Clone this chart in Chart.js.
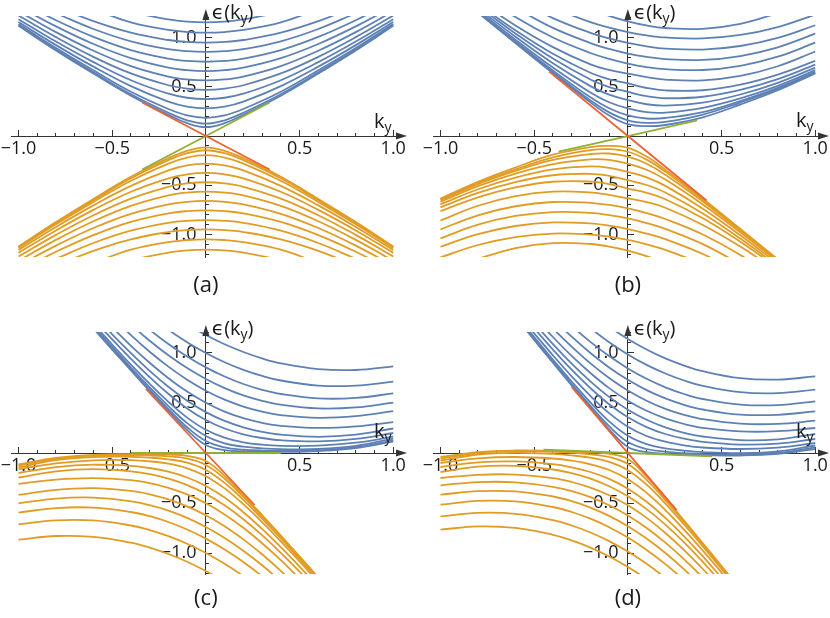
<!DOCTYPE html>
<html>
<head>
<meta charset="utf-8">
<script src="https://cdn.jsdelivr.net/npm/chart.js@4.4.1/dist/chart.umd.min.js"></script>
<style>
  html, body { margin: 0; padding: 0; background: #fff; width: 830px; height: 618px; overflow: hidden; }
  canvas { position: absolute; }
</style>
</head>
<body>
<canvas id="pa" width="446" height="311" style="left:-19px;top:-4px;width:446px;height:311px"></canvas>
<canvas id="pb" width="446" height="311" style="left:403px;top:-4px;width:446px;height:311px"></canvas>
<canvas id="pc" width="446" height="312" style="left:-19px;top:312px;width:446px;height:312px"></canvas>
<canvas id="pd" width="446" height="312" style="left:403px;top:312px;width:446px;height:312px"></canvas>
<script>
/* ===== Data ===== */

// (a) untilted cone: k grid shared by both band families
const gridA = [-1, -0.8, -0.6, -0.4, -0.2, -0.1, 0, 0.1, 0.2, 0.4, 0.6, 0.8, 1];
const upperA = [
  [1.120, 0.870, 0.635, 0.410, 0.215, 0.130, 0.090, 0.130, 0.215, 0.410, 0.635, 0.870, 1.120],
  [1.126, 0.880, 0.648, 0.425, 0.237, 0.160, 0.125, 0.160, 0.237, 0.425, 0.648, 0.880, 1.126],
  [1.138, 0.895, 0.668, 0.450, 0.275, 0.210, 0.185, 0.210, 0.275, 0.450, 0.668, 0.895, 1.138],
  [1.158, 0.924, 0.705, 0.507, 0.349, 0.298, 0.280, 0.298, 0.349, 0.507, 0.705, 0.924, 1.158],
  [1.188, 0.960, 0.751, 0.567, 0.430, 0.389, 0.375, 0.389, 0.430, 0.567, 0.751, 0.960, 1.188],
  [1.225, 1.005, 0.805, 0.636, 0.516, 0.482, 0.470, 0.482, 0.516, 0.636, 0.805, 1.005, 1.225],
  [1.269, 1.056, 0.867, 0.711, 0.604, 0.575, 0.565, 0.575, 0.604, 0.711, 0.867, 1.056, 1.269],
  [1.318, 1.114, 0.935, 0.791, 0.694, 0.669, 0.660, 0.669, 0.694, 0.791, 0.935, 1.114, 1.318],
  [1.373, 1.177, 1.008, 0.874, 0.786, 0.763, 0.755, 0.763, 0.786, 0.874, 1.008, 1.177, 1.373],
  [null, 1.248, 1.088, 0.963, 0.883, 0.862, 0.855, 0.862, 0.883, 0.963, 1.088, 1.248, null],
  [null, 1.319, 1.167, 1.050, 0.976, 0.956, 0.950, 0.956, 0.976, 1.050, 1.167, 1.319, null],
  [null, null, 1.290, 1.155, 1.078, 1.057, 1.050, 1.057, 1.078, 1.155, 1.290, null, null],
  [null, null, null, 1.260, 1.185, 1.163, 1.155, 1.163, 1.185, 1.260, null, null, null]
];
const lowerA = [
  [-1.124, -0.875, -0.640, -0.415, -0.225, -0.150, -0.115, -0.150, -0.225, -0.415, -0.640, -0.875, -1.124],
  [-1.130, -0.884, -0.652, -0.430, -0.245, -0.175, -0.145, -0.175, -0.245, -0.430, -0.652, -0.884, -1.130],
  [-1.140, -0.898, -0.670, -0.455, -0.280, -0.220, -0.195, -0.220, -0.280, -0.455, -0.670, -0.898, -1.140],
  [-1.158, -0.924, -0.705, -0.507, -0.349, -0.298, -0.280, -0.298, -0.349, -0.507, -0.705, -0.924, -1.158],
  [-1.188, -0.960, -0.751, -0.567, -0.430, -0.389, -0.375, -0.389, -0.430, -0.567, -0.751, -0.960, -1.188],
  [-1.225, -1.005, -0.805, -0.636, -0.516, -0.482, -0.470, -0.482, -0.516, -0.636, -0.805, -1.005, -1.225],
  [-1.269, -1.056, -0.867, -0.711, -0.604, -0.575, -0.565, -0.575, -0.604, -0.711, -0.867, -1.056, -1.269],
  [-1.318, -1.114, -0.935, -0.791, -0.694, -0.669, -0.660, -0.669, -0.694, -0.791, -0.935, -1.114, -1.318],
  [-1.373, -1.177, -1.008, -0.874, -0.786, -0.763, -0.755, -0.763, -0.786, -0.874, -1.008, -1.177, -1.373],
  [null, -1.248, -1.088, -0.963, -0.883, -0.862, -0.855, -0.862, -0.883, -0.963, -1.088, -1.248, null],
  [null, -1.319, -1.167, -1.050, -0.976, -0.956, -0.950, -0.956, -0.976, -1.050, -1.167, -1.319, null],
  [null, null, -1.290, -1.155, -1.078, -1.057, -1.050, -1.057, -1.078, -1.155, -1.290, null, null],
  [null, null, null, -1.260, -1.185, -1.163, -1.155, -1.163, -1.185, -1.260, null, null, null]
];
const redA = [[-0.34, 0.34], [0.34, -0.34]];
const greenA = [[-0.34, -0.34], [0.34, 0.34]];

// (b) tilted cone
const gridB = [-1, -0.8, -0.6, -0.4, -0.2, -0.1, 0, 0.1, 0.2, 0.4, 0.6, 0.8, 1];
const upperB = [
  [null, null, null, null, 1.293, 1.222, 1.166, 1.124, 1.098, 1.089, 1.139, 1.248, null],
  [null, null, null, 1.302, 1.157, 1.101, 1.057, 1.023, 1.002, 0.992, 1.027, 1.108, 1.234],
  [null, null, 1.395, 1.199, 1.049, 0.992, 0.946, 0.912, 0.889, 0.879, 0.915, 0.997, 1.126],
  [null, null, 1.303, 1.099, 0.945, 0.885, 0.838, 0.804, 0.781, 0.773, 0.813, 0.902, 1.040],
  [null, 1.466, 1.209, 1.001, 0.844, 0.784, 0.736, 0.701, 0.679, 0.671, 0.714, 0.806, 0.949],
  [null, 1.377, 1.124, 0.904, 0.729, 0.672, 0.635, 0.598, 0.574, 0.566, 0.611, 0.709, 0.859],
  [null, 1.340, 1.074, 0.836, 0.643, 0.577, 0.534, 0.488, 0.463, 0.465, 0.522, 0.624, 0.763],
  [null, 1.321, 1.042, 0.787, 0.574, 0.498, 0.449, 0.405, 0.384, 0.399, 0.469, 0.579, 0.726],
  [null, 1.297, 1.009, 0.739, 0.507, 0.420, 0.365, 0.323, 0.309, 0.339, 0.422, 0.541, 0.695],
  [null, 1.278, 0.980, 0.696, 0.442, 0.343, 0.280, 0.242, 0.237, 0.286, 0.382, 0.510, 0.669],
  [null, 1.265, 0.961, 0.666, 0.393, 0.282, 0.210, 0.178, 0.183, 0.243, 0.355, 0.489, 0.652],
  [null, 1.258, 0.951, 0.649, 0.362, 0.240, 0.160, 0.134, 0.143, 0.218, 0.340, 0.478, 0.643],
  [null, 1.254, 0.945, 0.638, 0.342, 0.209, 0.120, 0.100, 0.112, 0.190, 0.320, 0.465, 0.637]
];
const lowerB = [
  [null, -1.248, -1.139, -1.089, -1.098, -1.124, -1.166, -1.222, -1.293, null, null, null, null],
  [-1.234, -1.108, -1.027, -0.992, -1.002, -1.023, -1.057, -1.101, -1.157, -1.302, null, null, null],
  [-1.126, -0.997, -0.915, -0.879, -0.889, -0.912, -0.946, -0.992, -1.049, -1.199, -1.395, null, null],
  [-1.040, -0.902, -0.813, -0.773, -0.781, -0.804, -0.838, -0.885, -0.945, -1.099, -1.303, null, null],
  [-0.949, -0.806, -0.714, -0.671, -0.679, -0.701, -0.736, -0.784, -0.844, -1.001, -1.209, -1.466, null],
  [-0.859, -0.709, -0.611, -0.566, -0.574, -0.598, -0.635, -0.672, -0.729, -0.904, -1.124, -1.377, null],
  [-0.763, -0.624, -0.522, -0.465, -0.463, -0.488, -0.534, -0.577, -0.643, -0.836, -1.074, -1.340, null],
  [-0.726, -0.579, -0.469, -0.399, -0.384, -0.405, -0.449, -0.498, -0.574, -0.787, -1.042, -1.321, null],
  [-0.695, -0.541, -0.422, -0.339, -0.309, -0.323, -0.365, -0.420, -0.507, -0.739, -1.009, -1.297, null],
  [-0.669, -0.510, -0.382, -0.286, -0.237, -0.242, -0.280, -0.343, -0.442, -0.696, -0.980, -1.278, null],
  [-0.652, -0.489, -0.355, -0.243, -0.183, -0.178, -0.210, -0.282, -0.393, -0.666, -0.961, -1.265, null],
  [-0.643, -0.478, -0.340, -0.218, -0.143, -0.134, -0.160, -0.240, -0.362, -0.649, -0.951, -1.258, null],
  [-0.637, -0.465, -0.320, -0.190, -0.112, -0.100, -0.120, -0.209, -0.342, -0.638, -0.945, -1.254, null]
];
const redB = [[-0.42, 0.655], [0.42, -0.655]];
const greenB = [[-0.37, -0.159], [0.37, 0.159]];

// (c) and (d) share their grids: upper bands on gridU, lower bands on gridL
const gridU = [-0.6, -0.5, -0.4, -0.3, -0.2, -0.1, 0, 0.1, 0.2, 0.3, 0.4, 0.6, 0.8, 1];
const gridL = [-1, -0.8, -0.6, -0.4, -0.3, -0.2, -0.1, 0, 0.1, 0.2, 0.3, 0.4, 0.5, 0.6];

const upperC = [
  [null, null, null, null, 1.410, 1.287, 1.180, 1.087, 1.010, 0.946, 0.897, 0.839, 0.830, 0.867],
  [null, null, null, 1.371, 1.232, 1.108, 1.000, 0.908, 0.832, 0.771, 0.725, 0.674, 0.673, 0.714],
  [null, null, 1.390, 1.232, 1.090, 0.965, 0.856, 0.765, 0.690, 0.632, 0.590, 0.546, 0.551, 0.596],
  [null, null, 1.283, 1.122, 0.977, 0.849, 0.740, 0.649, 0.577, 0.522, 0.483, 0.446, 0.456, 0.504],
  [null, 1.359, 1.179, 1.013, 0.864, 0.733, 0.623, 0.533, 0.464, 0.413, 0.379, 0.351, 0.368, 0.418],
  [null, 1.256, 1.072, 0.902, 0.748, 0.614, 0.502, 0.414, 0.348, 0.302, 0.272, 0.251, 0.266, 0.309],
  [1.386, 1.187, 0.999, 0.822, 0.662, 0.523, 0.409, 0.321, 0.257, 0.212, 0.183, 0.162, 0.183, 0.245],
  [1.338, 1.136, 0.942, 0.759, 0.592, 0.446, 0.330, 0.245, 0.187, 0.150, 0.128, 0.117, 0.141, 0.200],
  [1.292, 1.085, 0.884, 0.691, 0.512, 0.354, 0.232, 0.153, 0.107, 0.083, 0.071, 0.073, 0.103, 0.163],
  [1.270, 1.061, 0.855, 0.657, 0.468, 0.299, 0.170, 0.097, 0.063, 0.046, 0.038, 0.040, 0.071, 0.144],
  [1.255, 1.044, 0.837, 0.634, 0.438, 0.257, 0.120, 0.056, 0.033, 0.024, 0.021, 0.027, 0.058, 0.127],
  [1.245, 1.034, 0.826, 0.620, 0.420, 0.229, 0.080, 0.028, 0.016, 0.011, 0.011, 0.020, 0.049, 0.113]
];
const lowerC = [
  [-0.867, -0.830, -0.839, -0.897, -0.946, -1.010, -1.087, -1.180, -1.287, -1.410, null, null, null, null],
  [-0.714, -0.673, -0.674, -0.725, -0.771, -0.832, -0.908, -1.000, -1.108, -1.232, -1.371, null, null, null],
  [-0.596, -0.551, -0.546, -0.590, -0.632, -0.690, -0.765, -0.856, -0.965, -1.090, -1.232, -1.390, null, null],
  [-0.504, -0.456, -0.446, -0.483, -0.522, -0.577, -0.649, -0.740, -0.849, -0.977, -1.122, -1.283, null, null],
  [-0.418, -0.368, -0.351, -0.379, -0.413, -0.464, -0.533, -0.623, -0.733, -0.864, -1.013, -1.179, -1.359, null],
  [-0.309, -0.266, -0.251, -0.272, -0.302, -0.348, -0.414, -0.502, -0.614, -0.748, -0.902, -1.072, -1.256, null],
  [-0.245, -0.183, -0.162, -0.183, -0.212, -0.257, -0.321, -0.409, -0.523, -0.662, -0.822, -0.999, -1.187, -1.386],
  [-0.200, -0.141, -0.117, -0.128, -0.150, -0.187, -0.245, -0.330, -0.446, -0.592, -0.759, -0.942, -1.136, -1.338],
  [-0.163, -0.103, -0.073, -0.071, -0.083, -0.107, -0.153, -0.232, -0.354, -0.512, -0.691, -0.884, -1.085, -1.292],
  [-0.144, -0.071, -0.040, -0.038, -0.046, -0.063, -0.097, -0.170, -0.299, -0.468, -0.657, -0.855, -1.061, -1.270],
  [-0.127, -0.058, -0.027, -0.021, -0.024, -0.033, -0.056, -0.120, -0.257, -0.438, -0.634, -0.837, -1.044, -1.255],
  [-0.113, -0.049, -0.020, -0.011, -0.011, -0.016, -0.028, -0.080, -0.229, -0.420, -0.620, -0.826, -1.034, -1.245]
];
const redC = [[-0.32, 0.64], [0.26, -0.52]];
const greenC = [[-0.40, 0], [0.40, 0]];

const upperD = [
  [null, null, null, null, 1.400, 1.262, 1.140, 1.035, 0.946, 0.874, 0.818, 0.749, 0.734, 0.767],
  [null, null, null, 1.406, 1.249, 1.108, 0.986, 0.881, 0.795, 0.725, 0.671, 0.608, 0.598, 0.633],
  [null, null, 1.448, 1.271, 1.111, 0.969, 0.846, 0.742, 0.657, 0.590, 0.540, 0.484, 0.479, 0.517],
  [null, null, 1.343, 1.163, 1.000, 0.856, 0.732, 0.629, 0.546, 0.482, 0.435, 0.384, 0.382, 0.417],
  [null, 1.444, 1.246, 1.063, 0.896, 0.750, 0.625, 0.523, 0.442, 0.382, 0.338, 0.293, 0.291, 0.323],
  [null, 1.363, 1.160, 0.971, 0.800, 0.649, 0.523, 0.422, 0.346, 0.290, 0.252, 0.216, 0.218, 0.250],
  [null, 1.298, 1.089, 0.894, 0.717, 0.561, 0.433, 0.333, 0.257, 0.202, 0.165, 0.129, 0.137, 0.190],
  [null, 1.247, 1.034, 0.833, 0.649, 0.487, 0.357, 0.259, 0.190, 0.143, 0.111, 0.084, 0.094, 0.140],
  [1.422, 1.196, 0.977, 0.767, 0.571, 0.399, 0.263, 0.170, 0.113, 0.077, 0.055, 0.040, 0.054, 0.100],
  [1.390, 1.160, 0.934, 0.715, 0.506, 0.317, 0.172, 0.089, 0.047, 0.024, 0.009, -0.002, 0.015, 0.075],
  [1.373, 1.141, 0.913, 0.689, 0.472, 0.268, 0.110, 0.040, 0.013, -0.002, -0.011, -0.017, 0.000, 0.056],
  [1.362, 1.131, 0.902, 0.676, 0.453, 0.237, 0.060, 0.009, -0.006, -0.015, -0.021, -0.025, -0.009, 0.040]
];
const lowerD = [
  [-0.767, -0.734, -0.749, -0.818, -0.874, -0.946, -1.035, -1.140, -1.262, -1.400, null, null, null, null],
  [-0.633, -0.598, -0.608, -0.671, -0.725, -0.795, -0.881, -0.986, -1.108, -1.249, -1.406, null, null, null],
  [-0.517, -0.479, -0.484, -0.540, -0.590, -0.657, -0.742, -0.846, -0.969, -1.111, -1.271, -1.448, null, null],
  [-0.417, -0.382, -0.384, -0.435, -0.482, -0.546, -0.629, -0.732, -0.856, -1.000, -1.163, -1.343, null, null],
  [-0.323, -0.291, -0.293, -0.338, -0.382, -0.442, -0.523, -0.625, -0.750, -0.896, -1.063, -1.246, -1.444, null],
  [-0.250, -0.218, -0.216, -0.252, -0.290, -0.346, -0.422, -0.523, -0.649, -0.800, -0.971, -1.160, -1.363, null],
  [-0.190, -0.137, -0.129, -0.165, -0.202, -0.257, -0.333, -0.433, -0.561, -0.717, -0.894, -1.089, -1.298, null],
  [-0.140, -0.094, -0.084, -0.111, -0.143, -0.190, -0.259, -0.357, -0.487, -0.649, -0.833, -1.034, -1.247, null],
  [-0.100, -0.054, -0.040, -0.055, -0.077, -0.113, -0.170, -0.263, -0.399, -0.571, -0.767, -0.977, -1.196, -1.422],
  [-0.075, -0.015, 0.002, -0.009, -0.024, -0.047, -0.089, -0.172, -0.317, -0.506, -0.715, -0.934, -1.160, -1.390],
  [-0.056, 0.000, 0.017, 0.011, 0.002, -0.013, -0.040, -0.110, -0.268, -0.472, -0.689, -0.913, -1.141, -1.373],
  [-0.040, 0.009, 0.025, 0.021, 0.015, 0.006, -0.009, -0.060, -0.237, -0.453, -0.676, -0.902, -1.131, -1.362]
];
const redD = [[-0.30, 0.66], [0.26, -0.572]];
const greenD = [[-0.45, 0.034], [0.45, -0.034]];

/* ===== Styling ===== */
const BLUE = "#5E81B5";
const ORANGE = "#E19C24";
const GREEN = "#8FB032";
const RED = "#EB6235";
const AXIS = "#333333";
const TXT = "#1a1a1a";
const FONT = '"Open Sans", "DejaVu Sans", sans-serif';

function fmt(v) {
  const r = Math.round(v * 10) / 10;
  if (r === 0) return "";
  return (r < 0 ? "\u2212" : "") + Math.abs(r).toFixed(1);
}

// arrows on the axes, axis names and the panel letter
const decor = {
  id: "decor",
  afterDraw(chart, args, o) {
    const { ctx, chartArea: a } = chart;
    const x0 = chart.scales.x.getPixelForValue(0);
    const y0 = chart.scales.y.getPixelForValue(0);
    ctx.save();
    ctx.fillStyle = AXIS;
    ctx.beginPath();
    ctx.moveTo(x0, a.top - 7);
    ctx.lineTo(x0 + 3.5, a.top + 4);
    ctx.lineTo(x0 - 3.5, a.top + 4);
    ctx.closePath();
    ctx.fill();
    ctx.beginPath();
    ctx.moveTo(a.right + 10, y0);
    ctx.lineTo(a.right - 1, y0 - 3.5);
    ctx.lineTo(a.right - 1, y0 + 3.5);
    ctx.closePath();
    ctx.fill();

    ctx.fillStyle = TXT;
    ctx.textAlign = "left";
    ctx.textBaseline = "alphabetic";
    let tx = x0 + 6;
    const by = a.top + 3;
    ctx.font = "20px " + FONT;
    ctx.fillText("\u03f5(k", tx, by);
    tx += ctx.measureText("\u03f5(k").width;
    ctx.font = "14px " + FONT;
    ctx.fillText("y", tx, by + 4);
    tx += ctx.measureText("y").width;
    ctx.font = "20px " + FONT;
    ctx.fillText(")", tx, by);

    tx = a.right - 23;
    const ky = y0 - o.kyUp;
    ctx.font = "20px " + FONT;
    ctx.fillText("k", tx, ky);
    tx += ctx.measureText("k").width;
    ctx.font = "14px " + FONT;
    ctx.fillText("y", tx, ky + 4);

    ctx.font = "22px " + FONT;
    ctx.textAlign = "center";
    ctx.fillText(o.letter, x0, a.bottom + o.letterDown);
    ctx.restore();
  }
};

function toPoints(grid, vals) {
  return grid.map((k, i) => ({ x: k, y: vals[i] }));
}

function lineSet(data, color) {
  return {
    data: data,
    borderColor: color,
    borderWidth: 1.8,
    pointRadius: 0,
    fill: false,
    tension: 0.4,
    xAxisID: "x",
    yAxisID: "y"
  };
}

function makePanel(id, p) {
  const datasets = [];
  datasets.push(lineSet(p.red.map(([x, y]) => ({ x, y })), RED));
  datasets.push(lineSet(p.green.map(([x, y]) => ({ x, y })), GREEN));
  p.lower.forEach(v => datasets.push(lineSet(toPoints(p.gridLow, v), ORANGE)));
  p.upper.forEach(v => datasets.push(lineSet(toPoints(p.gridUp, v), BLUE)));

  const tickFont = { family: FONT, size: 18 };
  new Chart(document.getElementById(id), {
    type: "line",
    data: { datasets: datasets },
    options: {
      responsive: false,
      animation: false,
      events: [],
      layout: { padding: { left: 30, right: 30, top: 20, bottom: p.padBottom } },
      elements: { line: { capBezierPoints: false } },
      plugins: {
        legend: { display: false },
        tooltip: { enabled: false },
        decor: { kyUp: p.kyUp, letter: p.letter, letterDown: p.letterDown }
      },
      scales: {
        x: {
          type: "linear", min: -1.04, max: 1.02, position: { y: 0 }, z: 1,
          border: { display: true, color: AXIS, width: 1 },
          grid: { display: true, drawOnChartArea: false, drawTicks: true, tickLength: -4, color: AXIS },
          ticks: { display: false, stepSize: 0.1, includeBounds: false, autoSkip: false }
        },
        xm: {
          type: "linear", min: -1.04, max: 1.02, position: { y: 0 }, z: 1,
          border: { display: false },
          grid: { display: true, drawOnChartArea: false, drawTicks: true, tickLength: -6, color: AXIS },
          ticks: {
            stepSize: 0.5, includeBounds: false, autoSkip: false, maxRotation: 0,
            padding: 8, color: TXT, font: tickFont, callback: v => fmt(v)
          }
        },
        y: {
          type: "linear", min: p.ymin, max: p.ymax, position: { x: 0 }, z: 1,
          border: { display: true, color: AXIS, width: 1 },
          grid: { display: true, drawOnChartArea: false, drawTicks: true, tickLength: -4, color: AXIS },
          ticks: { display: false, stepSize: 0.1, includeBounds: false, autoSkip: false }
        },
        ym: {
          type: "linear", min: p.ymin, max: p.ymax, position: { x: 0 }, z: 1,
          border: { display: false },
          grid: { display: true, drawOnChartArea: false, drawTicks: true, tickLength: -6, color: AXIS },
          ticks: {
            stepSize: 0.5, includeBounds: false, autoSkip: false,
            color: TXT, font: tickFont,
            callback: v => { const s = fmt(v); return s ? s + "  " : ""; }
          }
        }
      }
    },
    plugins: [decor]
  });
}

makePanel("pa", { gridUp: gridA, gridLow: gridA, upper: upperA, lower: lowerA, red: redA, green: greenA,
  ymin: -1.23, ymax: 1.22, padBottom: 50, kyUp: 8, letter: "(a)", letterDown: 35 });
makePanel("pb", { gridUp: gridB, gridLow: gridB, upper: upperB, lower: lowerB, red: redB, green: greenB,
  ymin: -1.23, ymax: 1.22, padBottom: 50, kyUp: 9, letter: "(b)", letterDown: 35 });
makePanel("pc", { gridUp: gridU, gridLow: gridL, upper: upperC, lower: lowerC, red: redC, green: greenC,
  ymin: -1.21, ymax: 1.21, padBottom: 50, kyUp: 15, letter: "(c)", letterDown: 31 });
makePanel("pd", { gridUp: gridU, gridLow: gridL, upper: upperD, lower: lowerD, red: redD, green: greenD,
  ymin: -1.21, ymax: 1.21, padBottom: 50, kyUp: 15, letter: "(d)", letterDown: 31 });
</script>
</body>
</html>
